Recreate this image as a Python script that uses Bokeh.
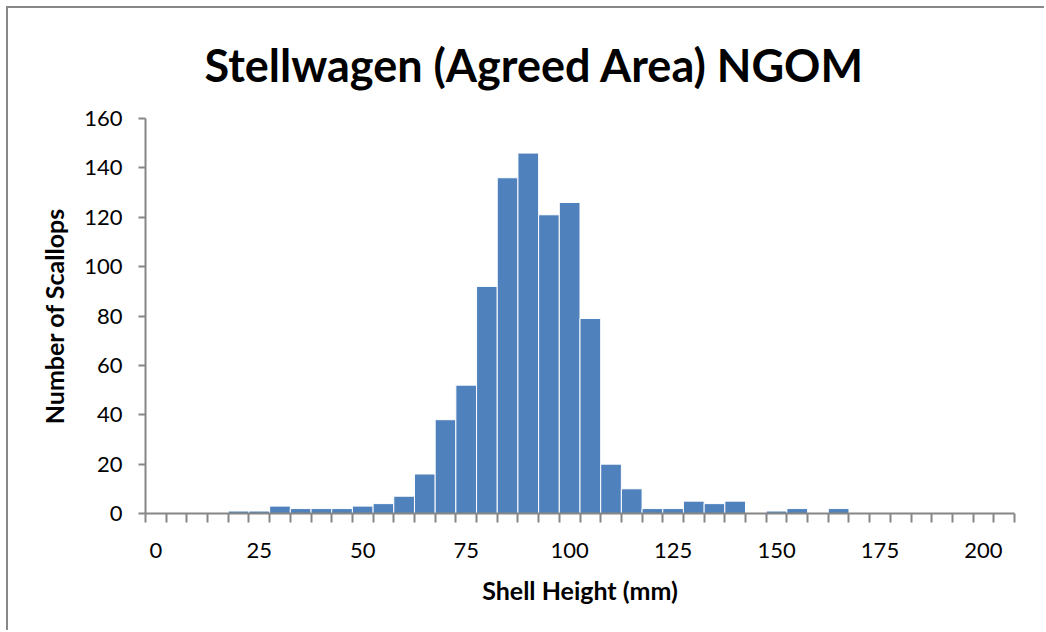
from bokeh.plotting import figure
from bokeh.models import FixedTicker, Range1d, ColumnDataSource
from bokeh.embed import file_html
from bokeh.resources import INLINE

# ---- data ----
bin_starts = [0, 5, 10, 15, 20, 25, 30, 35, 40, 45, 50, 55, 60, 65, 70, 75, 80, 85,
              90, 95, 100, 105, 110, 115, 120, 125, 130, 135, 140, 145, 150, 155,
              160, 165, 170, 175, 180, 185, 190, 195, 200, 205]
counts = [0, 0, 0, 0, 1, 1, 3, 2, 2, 2, 3, 4, 7, 16, 38, 52, 92, 136,
          146, 121, 126, 79, 20, 10, 2, 2, 5, 4, 5, 0, 1, 2,
          0, 2, 0, 0, 0, 0, 0, 0, 0, 0]
x_tick_labels = [0, 25, 50, 75, 100, 125, 150, 175, 200]
y_ticks = [0, 20, 40, 60, 80, 100, 120, 140, 160]
title_text = "Stellwagen (Agreed Area) NGOM"
x_title = "Shell Height (mm)"
y_title = "Number of Scallops"

BIN_W = 5
FONT = "Lato"
BAR = "#4F81BD"
AXIS = "#868686"

src = ColumnDataSource(dict(x=bin_starts, top=counts))

p = figure(width=1038, height=624,
           x_range=Range1d(bin_starts[0] - BIN_W / 2, bin_starts[-1] + BIN_W / 2),
           y_range=Range1d(y_ticks[0], y_ticks[-1]),
           output_backend="svg", toolbar_location=None,
           min_border_left=137, min_border_right=32,
           min_border_top=110, min_border_bottom=119,
           title=title_text)
p.styles = {"border-left": "2px solid #888888", "border-top": "2px solid #888888",
            "margin-left": "6px", "margin-top": "6px"}

p.vbar(x="x", top="top", width=BIN_W, source=src,
       fill_color=BAR, line_color="white", line_width=1)

p.outline_line_color = None
p.xgrid.grid_line_color = None
p.ygrid.grid_line_color = None
p.background_fill_color = "white"
p.border_fill_color = "white"

p.title.text_font = FONT
p.title.text_font_style = "bold"
p.title.text_font_size = "45px"
p.title.text_color = "black"
p.title.align = "left"
p.title.offset = 59
p.title.vertical_align = "bottom"
p.title.standoff = 54

boundaries = [b - BIN_W / 2 for b in bin_starts] + [bin_starts[-1] + BIN_W / 2]
xa = p.xaxis[0]
xa.ticker = FixedTicker(ticks=x_tick_labels, minor_ticks=boundaries)
xa.axis_line_color = AXIS
xa.axis_line_width = 2
xa.major_tick_line_color = None
xa.major_tick_out = 0
xa.major_tick_in = 0
xa.minor_tick_line_color = AXIS
xa.minor_tick_line_width = 2
xa.minor_tick_out = 9
xa.minor_tick_in = 0
xa.major_label_standoff = 20
xa.major_label_text_font = FONT
xa.major_label_text_font_size = "22px"
xa.major_label_text_color = "black"
xa.axis_label = x_title
xa.axis_label_text_font = FONT
xa.axis_label_text_font_style = "bold"
xa.axis_label_text_font_size = "25px"
xa.axis_label_text_color = "black"
xa.axis_label_standoff = 14

ya = p.yaxis[0]
ya.ticker = FixedTicker(ticks=y_ticks, minor_ticks=[])
ya.axis_line_color = AXIS
ya.axis_line_width = 2
ya.major_tick_line_color = AXIS
ya.major_tick_line_width = 2
ya.major_tick_out = 7
ya.major_tick_in = 0
ya.minor_tick_line_color = None
ya.major_label_standoff = 16
ya.major_label_text_font = FONT
ya.major_label_text_font_size = "22px"
ya.major_label_text_color = "black"
ya.axis_label = y_title
ya.axis_label_text_font = FONT
ya.axis_label_text_font_style = "bold"
ya.axis_label_text_font_size = "25px"
ya.axis_label_text_color = "black"
ya.axis_label_standoff = 12

open("out.html", "w").write(file_html(p, INLINE))
